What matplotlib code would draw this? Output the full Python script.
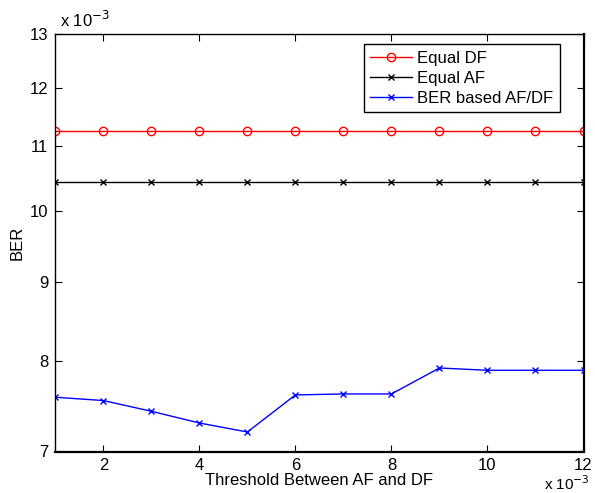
import matplotlib
matplotlib.use("Agg")
import matplotlib.pyplot as plt
import numpy as np

plt.rcParams['font.family'] = ['Liberation Sans', 'DejaVu Sans']

threshold = [1, 2, 3, 4, 5, 6, 7, 8, 9, 10, 11, 12]  # x 10^-3
equal_df = [11.25] * 12  # x 10^-3
equal_af = [10.43] * 12
ber_based = [7.586, 7.549, 7.430, 7.302, 7.205, 7.612, 7.623, 7.623, 7.922, 7.895, 7.895, 7.895]

xticks = [2, 4, 6, 8, 10, 12]
yticks = [7, 8, 9, 10, 11, 12, 13]

fig = plt.figure(figsize=(5.95, 4.93), dpi=100)
ax = fig.add_axes([55.3 / 595, 1 - 451.5 / 493, (583.5 - 55.3) / 595, (451.5 - 33.7) / 493])

ax.plot(threshold, equal_df, color='red', marker='o', markersize=6, markerfacecolor='none',
        markeredgewidth=1.0, linewidth=1.0, label='Equal DF')
ax.plot(threshold, equal_af, color='black', marker='x', markersize=4,
        markeredgewidth=1.0, linewidth=1.0, label='Equal AF')
ax.plot(threshold, ber_based, color='blue', marker='x', markersize=4,
        markeredgewidth=1.0, linewidth=1.0, label='BER based AF/DF')

ax.set_yscale('log')
ax.set_xlim(1, 12)
ax.set_ylim(7, 13)
ax.set_xticks(xticks)
ax.set_xticklabels([str(t) for t in xticks])
ax.yaxis.set_major_locator(matplotlib.ticker.FixedLocator(yticks))
ax.yaxis.set_minor_locator(matplotlib.ticker.NullLocator())
ax.set_yticklabels([str(t) for t in yticks])

ax.tick_params(direction='in', top=True, right=True, length=5, width=0.8, labelsize=12, pad=5)
for s in ax.spines.values():
    s.set_linewidth(1.0)
ax.spines['bottom'].set_linewidth(1.6)
ax.spines['right'].set_linewidth(1.6)

ax.set_xlabel('Threshold Between AF and DF', fontsize=12, labelpad=0)
ax.set_ylabel('BER', fontsize=12, labelpad=4)

fig.text(60 / 595, 1 - 20 / 493, r'x 10$^{-3}$', fontsize=12, ha='left', va='center')
fig.text(590 / 595, 1 - 484 / 493, r'x 10$^{-3}$', fontsize=11, ha='right', va='center')

leg = ax.legend(loc='upper right', bbox_to_anchor=(0.955, 0.975), fontsize=12, frameon=True,
                fancybox=False, edgecolor='black', framealpha=1, borderpad=0.4,
                labelspacing=0.3, handlelength=2.5, handletextpad=0.3, borderaxespad=0)
leg.get_frame().set_linewidth(1.0)

fig.savefig('out.png', dpi=100)
